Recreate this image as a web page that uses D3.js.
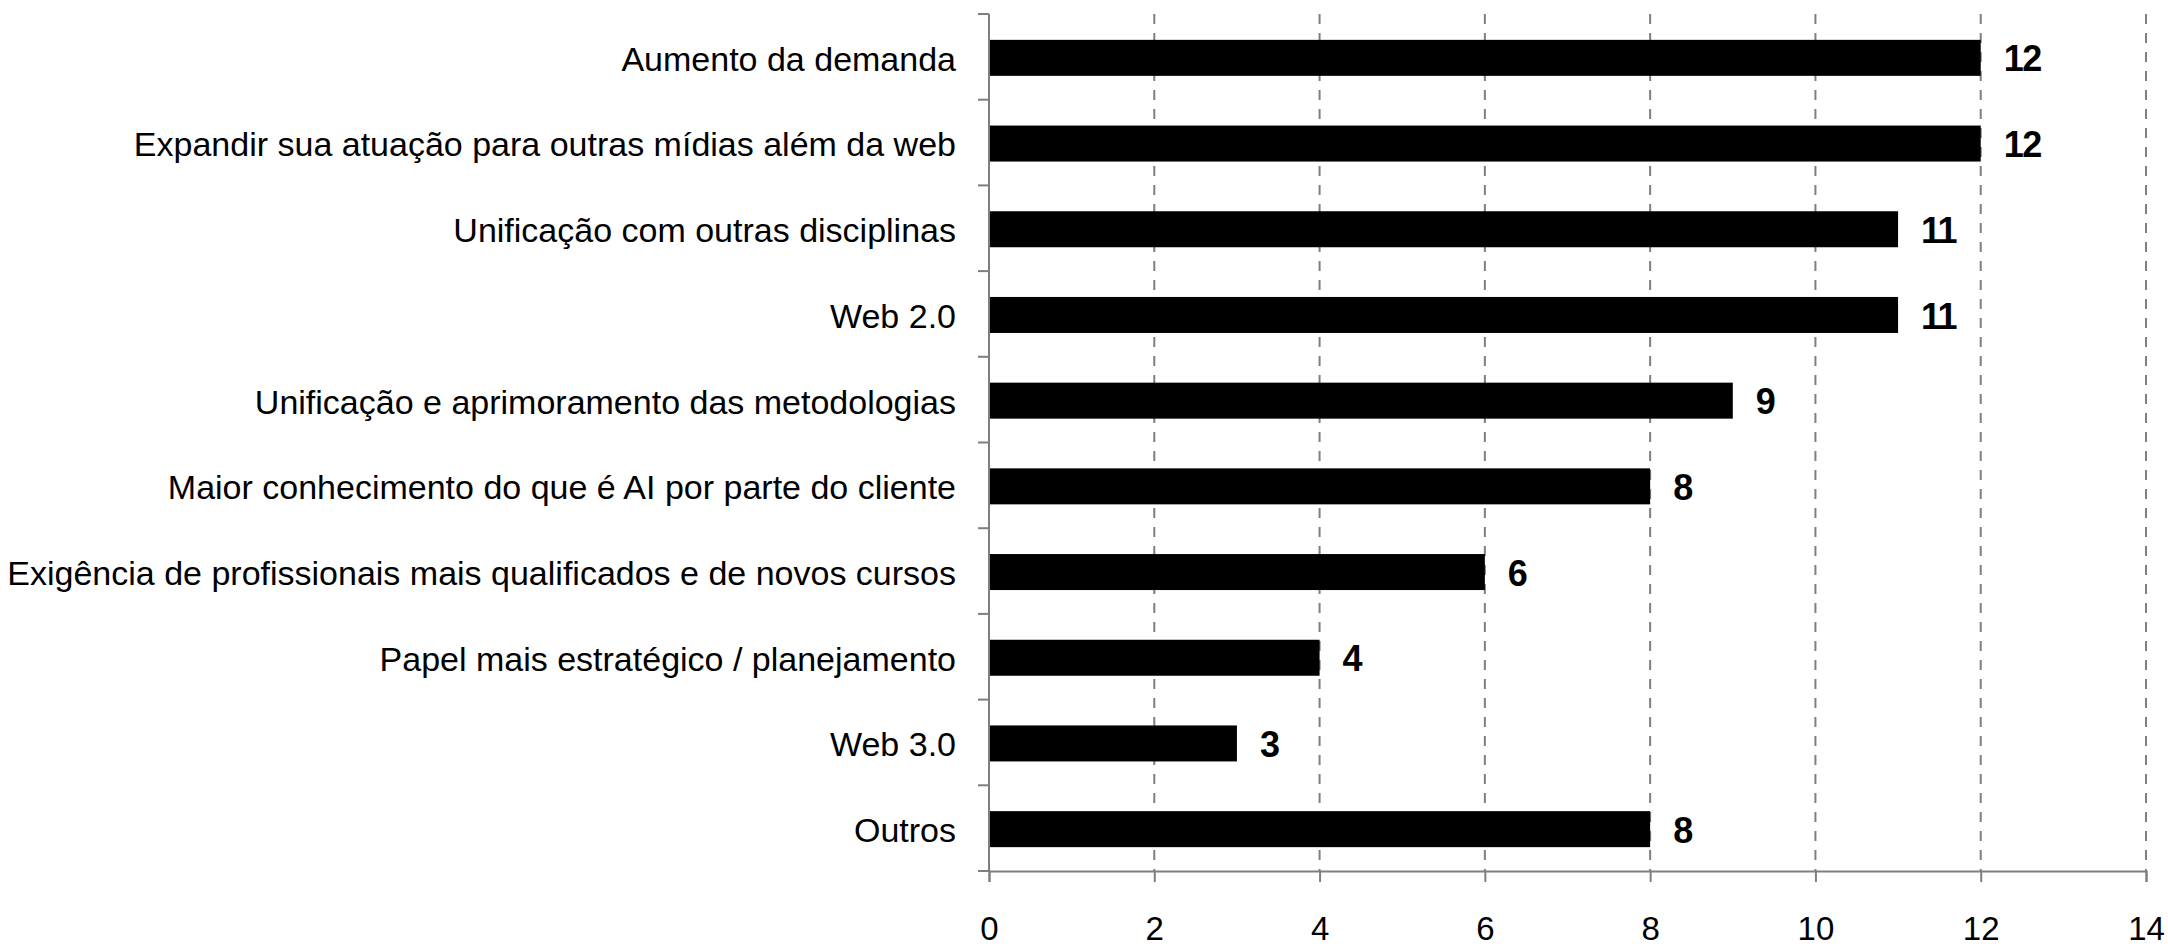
<!DOCTYPE html>
<html>
<head>
<meta charset="utf-8">
<script src="https://cdn.jsdelivr.net/npm/d3@7"></script>
<style>
  body { margin: 0; background: #fff; }
  text { font-family: "Liberation Sans", Arial, sans-serif; }
</style>
</head>
<body>
<script>
const WIDTH = 2168
const HEIGHT = 948

// data
const categories = [
  "Aumento da demanda",
  "Expandir sua atuação para outras mídias além da web",
  "Unificação com outras disciplinas",
  "Web 2.0",
  "Unificação e aprimoramento das metodologias",
  "Maior conhecimento do que é AI por parte do cliente",
  "Exigência de profissionais mais qualificados e de novos cursos",
  "Papel mais estratégico / planejamento",
  "Web 3.0",
  "Outros"
]
const values = [12, 12, 11, 11, 9, 8, 6, 4, 3, 8]
const xTicks = [0, 2, 4, 6, 8, 10, 12, 14]

const margin = {left: 989, right: 22, top: 14, bottom: 77}

var svg = d3.select("body").append("svg")
    .attr("width", WIDTH)
    .attr("height", HEIGHT)

var x = d3.scaleLinear()
    .domain([0, 14])
    .range([margin.left, WIDTH - margin.right])

var y = d3.scaleBand()
    .domain(categories)
    .range([margin.top, HEIGHT - margin.bottom])
    .paddingInner(0.58)
    .paddingOuter(0.29)

var yOuter = d3.scaleBand()
    .domain(categories)
    .range([margin.top, HEIGHT - margin.bottom])

// dashed vertical grid
svg.append("g").selectAll("line")
    .data(xTicks.filter(d => d > 0))
    .enter().append("line")
    .attr("x1", d => x(d))
    .attr("x2", d => x(d))
    .attr("y1", margin.top)
    .attr("y2", HEIGHT - margin.bottom)
    .attr("stroke", "#7f7f7f")
    .attr("stroke-width", 2)
    .attr("stroke-dasharray", "10,9")

// bars
svg.append("g").selectAll("rect")
    .data(values)
    .enter().append("rect")
    .attr("x", x(0))
    .attr("y", (d, i) => y(categories[i]) + 1)
    .attr("width", d => x(d) - x(0))
    .attr("height", y.bandwidth())
    .attr("fill", "#000")

// value labels
svg.append("g").selectAll("text")
    .data(values)
    .enter().append("text")
    .attr("x", d => x(d) + 23)
    .attr("y", (d, i) => y(categories[i]) + y.bandwidth() / 2 + 2)
    .attr("dy", "0.35em")
    .attr("font-size", 36)
    .attr("font-weight", "bold")
    .attr("letter-spacing", -1.5)
    .text(d => d)

// x axis
var xAxis = svg.append("g")
    .attr("transform", "translate(0," + (HEIGHT - margin.bottom) + ")")
    .call(d3.axisBottom(x).tickValues(xTicks).tickSize(11).tickPadding(35))
xAxis.select(".domain").attr("stroke", "#7f7f7f").attr("stroke-width", 2)
xAxis.selectAll(".tick line").attr("stroke", "#7f7f7f").attr("stroke-width", 2)
xAxis.selectAll(".tick text")
    .attr("font-size", 33)
    .attr("font-family", "Liberation Sans, Arial, sans-serif")
    .attr("fill", "#000")

// y axis: ticks on band boundaries, labels at band centers
var yAxis = svg.append("g")
    .attr("transform", "translate(" + margin.left + ",0)")
yAxis.append("line")
    .attr("x1", 0).attr("x2", 0)
    .attr("y1", margin.top).attr("y2", HEIGHT - margin.bottom)
    .attr("stroke", "#7f7f7f")
    .attr("stroke-width", 2)
var bounds = categories.map(c => yOuter(c)).concat([HEIGHT - margin.bottom])
yAxis.selectAll(".ytick")
    .data(bounds)
    .enter().append("line")
    .attr("class", "ytick")
    .attr("x1", -11).attr("x2", 0)
    .attr("y1", d => d).attr("y2", d => d)
    .attr("stroke", "#7f7f7f")
    .attr("stroke-width", 2)
yAxis.selectAll(".ylabel")
    .data(categories)
    .enter().append("text")
    .attr("class", "ylabel")
    .attr("x", -33)
    .attr("y", d => y(d) + y.bandwidth() / 2 + 2)
    .attr("dy", "0.35em")
    .attr("text-anchor", "end")
    .attr("font-size", 34)
    .text(d => d)
</script>
</body>
</html>
